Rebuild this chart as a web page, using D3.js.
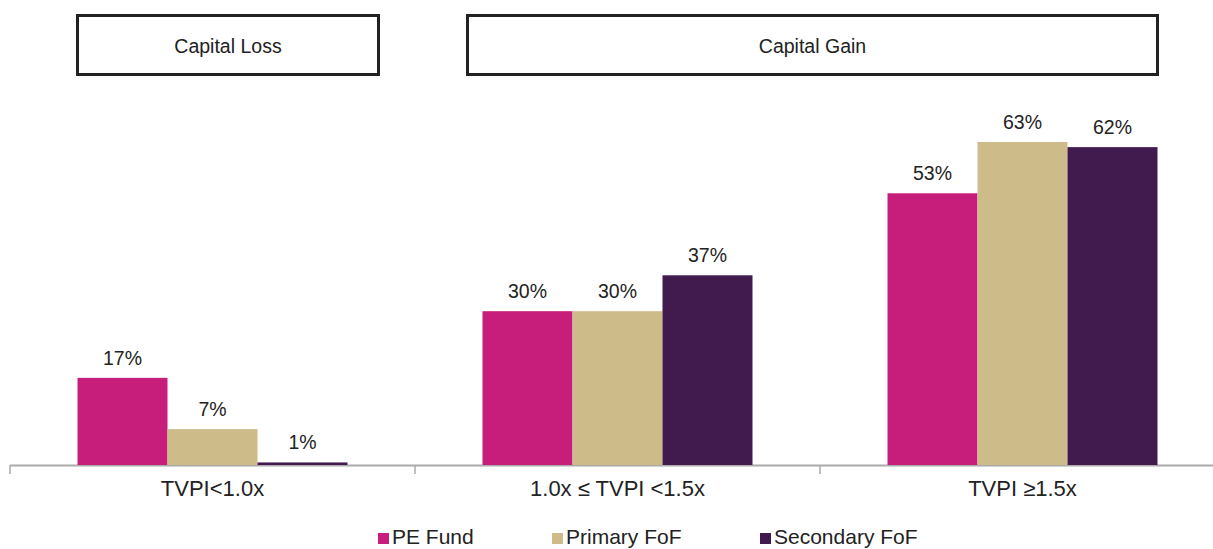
<!DOCTYPE html>
<html>
<head>
<meta charset="utf-8">
<script src="https://cdn.jsdelivr.net/npm/d3@7"></script>
<style>
  body { margin: 0; background: #fff; }
  text { font-family: "Liberation Sans", Arial, sans-serif; fill: #222; }
</style>
</head>
<body>
<div id="chart"></div>
<script>
// data
let categories = ['TVPI<1.0x', '1.0x \u2264 TVPI <1.5x', 'TVPI \u22651.5x'];
let series = ['PE Fund', 'Primary FoF', 'Secondary FoF'];
let peFund = [17, 30, 53];
let primaryFoF = [7, 30, 63];
let secondaryFoF = [0.5, 37, 62];
let headers = ['Capital Loss', 'Capital Gain'];
let colors = ['#c81e7b', '#cebb8a', '#421b4e'];

let width = 1213, height = 549;
let svg = d3.select('#chart').append('svg').attr('width', width).attr('height', height);

let baseY = 465;
let x0 = d3.scaleBand().domain(categories).range([10, 1225]).paddingInner(0).paddingOuter(0);
let x1 = d3.scaleBand().domain(series).range([0, x0.bandwidth()]).paddingOuter(0.75).paddingInner(0);
let y = d3.scaleLinear().domain([0, 63]).range([baseY, 142]);

let values = [peFund, primaryFoF, secondaryFoF];
let data = [];
categories.forEach((c, i) => {
  series.forEach((s, j) => data.push({cat: c, ser: s, value: values[j][i], fill: colors[j]}));
});

// axis
let axis = svg.append('g').attr('transform', `translate(0,${baseY})`)
  .call(d3.axisBottom(x0).tickValues([]).tickSizeOuter(0));
axis.select('.domain').attr('stroke', '#aaa').attr('stroke-width', 2).attr('d', 'M10,0.5H1225');
let edges = [10].concat(categories.map(c => x0(c) + x0.bandwidth()));
axis.selectAll('line.tk').data(edges).enter().append('line').attr('class', 'tk')
  .attr('x1', d => d).attr('x2', d => d).attr('y1', 0).attr('y2', 9)
  .attr('stroke', '#aaa').attr('stroke-width', 1.5);

// bars
let g = svg.append('g');
g.selectAll('rect').data(data).enter().append('rect')
  .attr('x', d => x0(d.cat) + x1(d.ser))
  .attr('y', d => y(d.value))
  .attr('width', x1.bandwidth())
  .attr('height', d => baseY - y(d.value))
  .style('fill', d => d.fill);

g.selectAll('text.val').data(data).enter().append('text').attr('class', 'val')
  .attr('x', d => x0(d.cat) + x1(d.ser) + x1.bandwidth() / 2)
  .attr('y', d => y(d.value) - 13)
  .attr('text-anchor', 'middle')
  .style('font-size', '19.5px')
  .text(d => Math.round(d.value) + '%');

// category labels
svg.selectAll('text.cat').data(categories).enter().append('text').attr('class', 'cat')
  .attr('x', d => x0(d) + x0.bandwidth() / 2)
  .attr('y', 496)
  .attr('text-anchor', 'middle')
  .style('font-size', '22px')
  .text(d => d);

// header boxes
let boxes = [
  {label: headers[0], x1: x0(categories[0]) + x1(series[0]), x2: x0(categories[0]) + x1(series[2]) + x1.bandwidth() + 31},
  {label: headers[1], x1: x0(categories[1]) + x1(series[0]) - 15, x2: x0(categories[2]) + x1(series[2]) + x1.bandwidth()}
];
let hb = svg.selectAll('g.hdr').data(boxes).enter().append('g').attr('class', 'hdr');
hb.append('rect')
  .attr('x', d => d.x1).attr('y', 15.5)
  .attr('width', d => d.x2 - d.x1).attr('height', 59)
  .attr('fill', 'none').attr('stroke', '#222').attr('stroke-width', 3);
hb.append('text')
  .attr('x', d => (d.x1 + d.x2) / 2).attr('y', 53)
  .attr('text-anchor', 'middle')
  .style('font-size', '19.5px')
  .text(d => d.label);

// legend
let legX = [378, 552, 760];
let leg = svg.selectAll('g.leg').data(series).enter().append('g').attr('class', 'leg')
  .attr('transform', (d, i) => `translate(${legX[i]},533)`);
leg.append('rect').attr('width', 11).attr('height', 11).style('fill', (d, i) => colors[i]);
leg.append('text').attr('x', 14).attr('y', 11).style('font-size', '21px').text(d => d);
</script>
</body>
</html>
